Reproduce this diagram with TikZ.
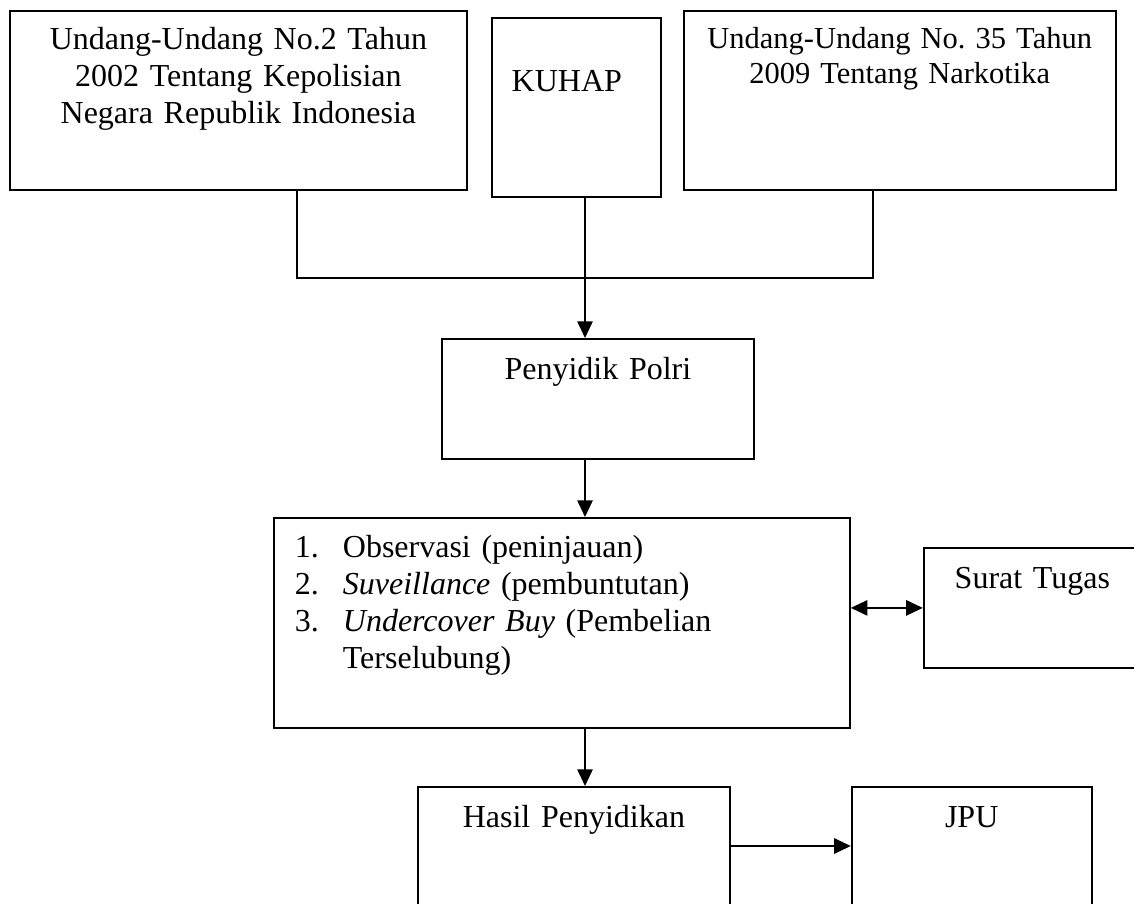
\documentclass[tikz,border=0pt]{standalone}
\usepackage{fontspec}
\setmainfont{Liberation Serif}
\usetikzlibrary{arrows.meta,positioning,calc}
\frenchspacing
\newcommand{\lnum}[1]{\makebox[36pt][l]{#1}}
\tikzset{
  bx/.style={draw=black, line width=1.35pt, inner ysep=0pt, inner xsep=0pt,
             font=\fontsize{24}{27.75}\selectfont},
  lnk/.style={line width=1.35pt},
  fwarr/.style={-{Triangle[length=12.5pt,width=11.5pt]}, line width=1.35pt},
  bdarr/.style={{Triangle[length=12.5pt,width=11.5pt]}-{Triangle[length=12.5pt,width=11.5pt]}, line width=1.35pt},
}
\begin{document}
\begin{tikzpicture}[x=0.75pt, y=-0.75pt]
  \useasboundingbox (0,0) rectangle (1134,903);
  \node[bx, anchor=north west, text width=342.75pt, align=center,
        text height=29.25pt, text depth=105pt] (uu2) at (9,10)
       {Undang-Undang No.2 Tahun\\ 2002 Tentang Kepolisian\\ Negara Republik Indonesia};
  \node[bx, below right=5.25pt and 17.25pt of uu2.north east, text width=96.75pt,
        inner xsep=15pt, align=left, text height=55.5pt, text depth=78.75pt] (kuhap) {KUHAP};
  \node[bx, right=161.25pt of uu2.north east, anchor=north west, text width=324pt,
        align=center, text height=28.5pt, text depth=105.75pt,
        font=\fontsize{22.85}{26.25}\selectfont] (uu35)
       {Undang-Undang No. 35 Tahun\\ 2009 Tentang Narkotika};
  \node[bx, anchor=north west, text width=234pt, align=center,
        text height=30.75pt, text depth=59.25pt] (polri) at (441,338) {Penyidik Polri};
  \node[bx, anchor=north west, text width=400.5pt, inner xsep=15.75pt, align=left,
        text height=30pt, text depth=127.5pt] (list) at (273,517)
       {\lnum{1.}Observasi (peninjauan)\\
        \lnum{2.}\textit{Suveillance} (pembuntutan)\\
        \lnum{3.}\textit{Undercover Buy} (Pembelian\\
        \hspace*{36pt}Terselubung)};
  \node[bx, below right=22.5pt and 54pt of list.north east, text width=125.25pt,
        inner xsep=23.25pt, align=left, text height=30.75pt, text depth=59.25pt] (surat) {Surat Tugas};
  \node[bx, anchor=north west, text width=234pt, align=center,
        text height=30.75pt, text depth=77.25pt] (hasil) at (417,786) {Hasil Penyidikan};
  \node[bx, right=90pt of hasil.north east, anchor=north west, text width=180pt,
        align=center, text height=30.75pt, text depth=77.25pt] (jpu) {JPU};

  \coordinate (jl) at (297,278);
  \coordinate (jr) at (873,278);
  \coordinate (spine) at (585,278);
  \draw[lnk] (uu2.south -| jl) -- (jl) -- (jr) -- (uu35.south -| jr);
  \draw[fwarr] (kuhap.south -| spine) -- (polri.north -| spine);
  \draw[fwarr] (polri.south -| spine) -- (list.north -| spine);
  \draw[fwarr] (list.south -| spine) -- (hasil.north -| spine);
  \draw[bdarr] (list.east |- surat.west) -- (surat.west);
  \draw[fwarr] ([yshift=-45pt]hasil.north east) -- ([yshift=-45pt]jpu.north west);
\end{tikzpicture}
\end{document}
